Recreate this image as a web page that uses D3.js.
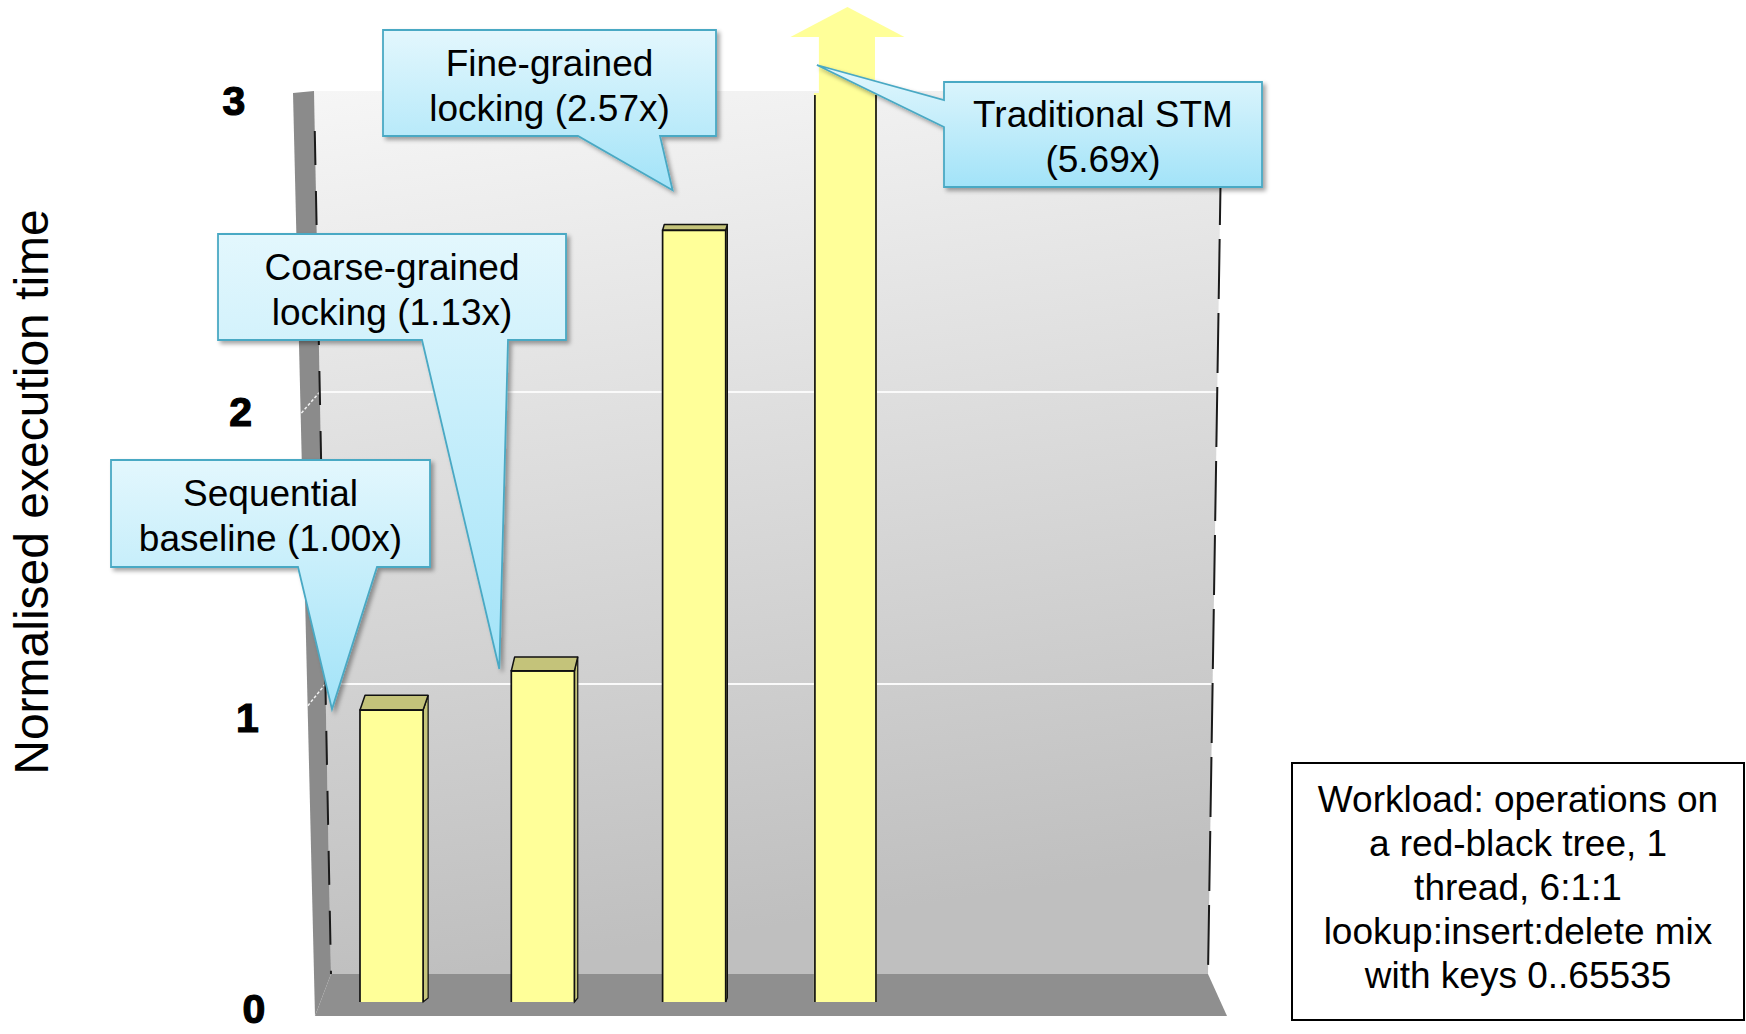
<!DOCTYPE html>
<html><head><meta charset="utf-8">
<script src="https://cdn.jsdelivr.net/npm/d3@7"></script>
<style>html,body{margin:0;padding:0;background:#fff;} svg{display:block;font-family:"Liberation Sans",Arial,Helvetica,sans-serif;}</style>
</head><body><svg id="chart" width="1746" height="1034"></svg>
<script>
// ---------- data ----------
const categories = ["Sequential baseline", "Coarse-grained locking", "Fine-grained locking", "Traditional STM"];
const values = [1.00, 1.13, 2.57, 5.69];
const calloutFirstLines = ["Sequential", "Coarse-grained", "Fine-grained", "Traditional STM"];
const calloutSecondPrefix = ["baseline ", "locking ", "locking ", ""];
const yTicks = [0, 1, 2, 3];
const yGridValues = [1, 2];
const yTitle = "Normalised execution time";
const noteLines = ["Workload: operations on", "a red-black tree, 1", "thread, 6:1:1", "lookup:insert:delete mix", "with keys 0..65535"];

// ---------- layout ----------
const svg = d3.select("#chart");
const yMax = 3;

const x = d3.scaleBand().domain(categories).range([360, 877]).paddingInner(0.583).paddingOuter(0);
// slight perspective: pow scales
const yFront = d3.scalePow().exponent(1.03).domain([0, yMax]).range([1002, 97]);
const yBack = d3.scaleLinear().domain([0, yMax]).range([976, 100]);
const yTickPos = d3.scalePow().exponent(1.035).domain([0, yMax]).range([1008, 100]);
const xTickPos = d3.scaleLinear().domain([0, yMax]).range([254, 234]);

const wallTop = 91, wallBottom = 974, floorFront = 1016;
const backLeftX = d3.scaleLinear().domain([wallTop, wallBottom]).range([314, 331]);
const frontLeftX = d3.scaleLinear().domain([93, floorFront]).range([293, 315]);
const backRightX = d3.scaleLinear().domain([wallTop, wallBottom]).range([1222, 1208]);

const defs = svg.append("defs");
const wallGrad = defs.append("linearGradient").attr("id", "wallGrad").attr("x1", 0).attr("y1", 0).attr("x2", 0.15).attr("y2", 1);
wallGrad.append("stop").attr("offset", "0%").attr("stop-color", "#f6f6f6");
wallGrad.append("stop").attr("offset", "100%").attr("stop-color", "#bfbfbf");
const callGrad = defs.append("linearGradient").attr("id", "callGrad").attr("x1", 0).attr("y1", 0).attr("x2", 0).attr("y2", 1);
callGrad.append("stop").attr("offset", "0%").attr("stop-color", "#e3f7fd");
callGrad.append("stop").attr("offset", "100%").attr("stop-color", "#a2e3f8");
const shadow = defs.append("filter").attr("id", "shadow").attr("x", "-10%").attr("y", "-10%").attr("width", "130%").attr("height", "130%");
shadow.append("feDropShadow").attr("dx", 3).attr("dy", 3).attr("stdDeviation", 2).attr("flood-color", "#000").attr("flood-opacity", 0.35);

const line = d3.line();

// ---------- walls & floor ----------
svg.append("path")
  .attr("d", line([[backLeftX(wallTop), wallTop], [backRightX(wallTop), wallTop], [backRightX(wallBottom), wallBottom], [backLeftX(wallBottom), wallBottom]]) + "Z")
  .attr("fill", "url(#wallGrad)");
svg.append("path")
  .attr("d", line([[frontLeftX(93), 93], [backLeftX(wallTop), wallTop], [backLeftX(wallBottom), wallBottom], [frontLeftX(floorFront), floorFront]]) + "Z")
  .attr("fill", "#8b8b8b");
svg.append("path")
  .attr("d", line([[backLeftX(wallBottom), wallBottom], [backRightX(wallBottom), wallBottom], [1227, floorFront], [frontLeftX(floorFront), floorFront]]) + "Z")
  .attr("fill", "#8f8f8f");

// gridlines
yGridValues.forEach(v => {
  const yb = yBack(v);
  svg.append("line").attr("x1", backLeftX(yb)).attr("x2", backRightX(yb)).attr("y1", yb).attr("y2", yb)
    .attr("stroke", "#fafafa").attr("stroke-width", 2);
  svg.append("line").attr("x1", backLeftX(yb)).attr("y1", yb).attr("x2", frontLeftX(yb + 22)).attr("y2", yb + 22)
    .attr("stroke", "#f2f2f2").attr("stroke-width", 1.5).attr("stroke-dasharray", "3 2");
});

// wall edges (dashed dark)
svg.append("line").attr("x1", backLeftX(wallTop + 40)).attr("y1", wallTop + 40).attr("x2", backLeftX(wallBottom)).attr("y2", wallBottom)
  .attr("stroke", "#1a1a1a").attr("stroke-width", 2).attr("stroke-dasharray", "34 26");
svg.append("line").attr("x1", backRightX(wallTop)).attr("y1", wallTop).attr("x2", backRightX(wallBottom)).attr("y2", wallBottom)
  .attr("stroke", "#1a1a1a").attr("stroke-width", 2).attr("stroke-dasharray", "60 14");

// ---------- bars ----------
const bw = x.bandwidth();
const base = yFront(0);
const barG = svg.append("g");
values.forEach((v, i) => {
  const cat = categories[i];
  const x0 = x(cat), x1 = x0 + bw;
  const clipped = v > yMax;
  const sw = Math.max(0, (814 - x0) / 90);
  if (!clipped) {
    const top = yFront(v);
    const cd = 0.0185 * (top + 88);
    barG.append("path").attr("d", line([[x1, top], [x1 + sw, top - cd], [x1 + sw, base - 4], [x1, base]]) + "Z")
      .attr("fill", "#c6c57a").attr("stroke", "#111").attr("stroke-width", 1.2);
    barG.append("rect").attr("x", x0).attr("y", top).attr("width", bw).attr("height", base - top).attr("fill", "#ffff99");
    barG.append("path").attr("d", line([[x0, top], [x1, top], [x1 + sw, top - cd], [x0 + sw, top - cd]]) + "Z")
      .attr("fill", "#c4c37a").attr("stroke", "#111").attr("stroke-width", 1.5).attr("stroke-linejoin", "round");
    barG.append("path").attr("d", line([[x0, base], [x0, top], [x1, top], [x1, base]]))
      .attr("fill", "none").attr("stroke", "#111").attr("stroke-width", 1.7);
  } else {
    const topWall = yBack(yMax) - 7;
    const arrowBase = yFront(yMax) - 60;
    const tip = arrowBase - 30;
    const cx = x0 + bw / 2 + 2;
    barG.append("rect").attr("x", x0).attr("y", topWall).attr("width", bw).attr("height", base - topWall).attr("fill", "#ffff99");
    barG.append("rect").attr("x", x0 + 5).attr("y", arrowBase).attr("width", bw - 7).attr("height", topWall - arrowBase + 1).attr("fill", "#ffff99");
    barG.append("path").attr("d", line([[cx - 57, arrowBase], [cx, tip], [cx + 57, arrowBase]]) + "Z").attr("fill", "#ffff99");
    barG.append("line").attr("x1", x0 + 1).attr("x2", x0 + 1).attr("y1", topWall + 2).attr("y2", base).attr("stroke", "#111").attr("stroke-width", 1.7);
    barG.append("line").attr("x1", x1 - 1).attr("x2", x1 - 1).attr("y1", topWall + 2).attr("y2", base).attr("stroke", "#111").attr("stroke-width", 1.7);
  }
});

// ---------- callouts ----------
const calloutLayout = [
  {box: [111, 460, 430, 567], side: "bottom", base: [298, 377], tipDx: -28, tipDy: -1},
  {box: [218, 234, 566, 340], side: "bottom", base: [422, 508], tipDx: -12, tipDy: -2},
  {box: [383, 30, 716, 136], side: "bottom", base: [578, 660], tipDx: 10, tipDy: -40},
  {box: [944, 82, 1262, 187], side: "left", base: [100, 127], tipDx: 3, tipDy: -32}
];
const callG = svg.append("g");
values.forEach((v, i) => {
  const L = calloutLayout[i];
  const [bx0, by0, bx1, by1] = L.box;
  const tx = x(categories[i]) + L.tipDx;
  const ty = yFront(Math.min(v, yMax)) + L.tipDy;
  let d;
  if (L.side === "bottom") {
    d = `M${bx0},${by0}H${bx1}V${by1}H${L.base[1]}L${tx},${ty}L${L.base[0]},${by1}H${bx0}Z`;
  } else {
    d = `M${bx0},${by0}H${bx1}V${by1}H${bx0}V${L.base[1]}L${tx},${ty}L${bx0},${L.base[0]}Z`;
  }
  callG.append("path").attr("d", d).attr("fill", "url(#callGrad)").attr("stroke", "#4aa9c4")
    .attr("stroke-width", 1.8).attr("stroke-linejoin", "miter").attr("filter", "url(#shadow)");
  const cx = (bx0 + bx1) / 2, cy = (by0 + by1) / 2 + 2.5;
  const lines2 = [calloutFirstLines[i], calloutSecondPrefix[i] + "(" + v.toFixed(2) + "x)"];
  lines2.forEach((t, j) => {
    callG.append("text").attr("x", cx).attr("y", cy + (j - 0.5) * 45).attr("dy", "0.35em")
      .attr("text-anchor", "middle").attr("font-size", 37).attr("fill", "#000").text(t);
  });
});

// ---------- y axis labels ----------
yTicks.forEach(v => {
  svg.append("text").attr("x", xTickPos(v)).attr("y", yTickPos(v)).attr("dy", "0.36em")
    .attr("text-anchor", "middle").attr("font-size", 41).attr("font-weight", "bold")
    .attr("stroke", "#000").attr("stroke-width", 1.2).attr("fill", "#000").text(v);
});
svg.append("text").attr("transform", "translate(48,492) rotate(-90)")
  .attr("text-anchor", "middle").attr("font-size", 48).attr("fill", "#000").text(yTitle);

// ---------- note box ----------
const note = {x0: 1292, y0: 763, x1: 1744, y1: 1020};
svg.append("rect").attr("x", note.x0).attr("y", note.y0).attr("width", note.x1 - note.x0).attr("height", note.y1 - note.y0)
  .attr("fill", "#fff").attr("stroke", "#000").attr("stroke-width", 2);
const ncx = (note.x0 + note.x1) / 2, ncy = (note.y0 + note.y1) / 2 - 4;
noteLines.forEach((t, j) => {
  svg.append("text").attr("x", ncx).attr("y", ncy + (j - 2) * 44).attr("dy", "0.35em")
    .attr("text-anchor", "middle").attr("font-size", 37).attr("fill", "#000").text(t);
});
</script>
</body></html>
